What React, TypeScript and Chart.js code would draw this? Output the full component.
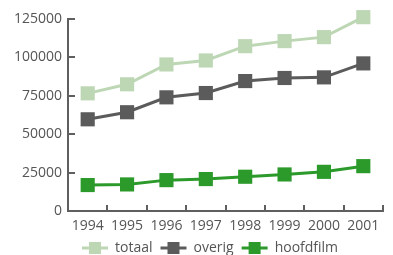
import React, { useEffect, useRef } from "react";
import { Chart, registerables } from "chart.js";

Chart.register(...registerables);

const years = ["1994", "1995", "1996", "1997", "1998", "1999", "2000", "2001"];
const totaal = [76600, 82500, 95400, 98000, 107300, 110600, 113200, 126200];
const overig = [59700, 64300, 74000, 76800, 84600, 86600, 87000, 96100];
const hoofdfilm = [16900, 17300, 20100, 20800, 22300, 23800, 25500, 29200];
const yTicks = [0, 25000, 50000, 75000, 100000, 125000];

const FONT = "'Open Sans', 'DejaVu Sans', sans-serif";
const AXIS = "#5f5f5f";
const TEXT = "#555555";

const innerTicks = {
  id: "innerTicks",
  afterDraw(chart: any) {
    const ctx = chart.ctx;
    const x = chart.scales.x;
    const y = chart.scales.y;
    const area = chart.chartArea;
    ctx.save();
    ctx.strokeStyle = AXIS;
    ctx.lineWidth = 2;
    ctx.beginPath();
    for (let i = 1; i <= years.length; i++) {
      const px = Math.round(x.getPixelForValue(i - 0.5));
      ctx.moveTo(px, area.bottom);
      ctx.lineTo(px, area.bottom - 6);
    }
    yTicks.forEach((v) => {
      const py = Math.round(y.getPixelForValue(v));
      ctx.moveTo(area.left, py);
      ctx.lineTo(area.left + 7, py);
    });
    ctx.stroke();
    ctx.restore();
  },
};

const customLegend = {
  id: "customLegend",
  afterDraw(chart: any) {
    const ctx = chart.ctx;
    const cy = 248;
    let cx = 82;
    ctx.save();
    ctx.font = `14px ${FONT}`;
    ctx.textBaseline = "middle";
    chart.data.datasets.forEach((ds: any) => {
      ctx.strokeStyle = ds.borderColor;
      ctx.lineWidth = 3;
      ctx.beginPath();
      ctx.moveTo(cx, cy);
      ctx.lineTo(cx + 26, cy);
      ctx.stroke();
      ctx.fillStyle = ds.borderColor;
      ctx.fillRect(cx + 7, cy - 6, 12, 12);
      cx += 33;
      ctx.fillStyle = TEXT;
      ctx.fillText(ds.label, cx, cy);
      cx += ctx.measureText(ds.label).width + 8;
    });
    ctx.restore();
  },
};

export default function App() {
  const ref = useRef<HTMLCanvasElement>(null);
  useEffect(() => {
    if (!ref.current) return;
    const mk = (label: string, data: number[], color: string) => ({
      label,
      data,
      borderColor: color,
      backgroundColor: color,
      borderWidth: 3,
      pointStyle: "rect",
      pointRadius: 10,
      pointBorderWidth: 0,
      pointBackgroundColor: color,
      tension: 0,
      clip: false,
    });
    const chart = new Chart(ref.current, {
      type: "line",
      data: {
        labels: years,
        datasets: [
          mk("totaal", totaal, "#bdd7b5"),
          mk("overig", overig, "#5b5b5b"),
          mk("hoofdfilm", hoofdfilm, "#2b9a2b"),
        ],
      },
      options: {
        animation: false,
        responsive: false,
        maintainAspectRatio: false,
        layout: { padding: { top: 19, right: 1, left: 0, bottom: 0 } },
        plugins: { legend: { display: false }, tooltip: { enabled: false } },
        scales: {
          x: {
            offset: true,
            grid: { display: true, drawOnChartArea: false, drawTicks: false, offset: true },
            border: { display: true, color: AXIS, width: 2 },
            ticks: { color: TEXT, font: { family: FONT, size: 14 }, padding: 7, maxRotation: 0 },
            afterFit(s: any) { s.height = 44; },
          },
          y: {
            min: 0,
            max: 125000,
            grid: { display: true, drawOnChartArea: false, drawTicks: false },
            border: { display: true, color: AXIS, width: 2 },
            afterBuildTicks(s: any) { s.ticks = yTicks.map((v) => ({ value: v })); },
            ticks: {
              color: TEXT,
              font: { family: FONT, size: 14 },
              padding: 6,
              callback: (v: any) => String(v),
            },
            afterFit(s: any) { s.width = 68; },
          },
        },
      },
      plugins: [innerTicks, customLegend],
    } as any);
    return () => chart.destroy();
  }, []);
  return (
    <div style={{ position: "fixed", left: 0, top: 0, width: 393, height: 255, background: "#fff" }}>
      <canvas ref={ref} width={393} height={255} style={{ display: "block" }} />
    </div>
  );
}
